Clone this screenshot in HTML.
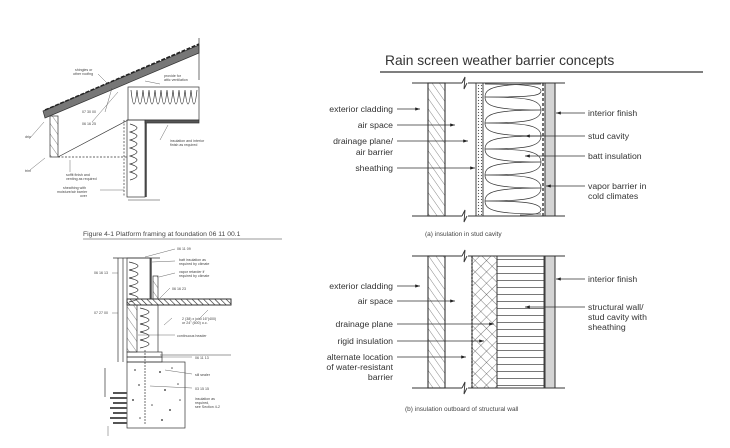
<!DOCTYPE html>
<html><head><meta charset="utf-8"><style>
html,body{margin:0;padding:0;background:#fff;}
svg{display:block;font-family:"Liberation Sans",sans-serif;}
.l{font-size:8.7px;fill:#333;}
.s{font-size:3.6px;fill:#444;}
</style></head><body>
<svg width="730" height="448" viewBox="0 0 730 448" xmlns="http://www.w3.org/2000/svg">
<defs>
<pattern id="hat" width="6" height="6" patternUnits="userSpaceOnUse" patternTransform="rotate(-35)">
<line x1="0" y1="0" x2="0" y2="6" stroke="#555" stroke-width="0.7"/></pattern>
<pattern id="xh" width="8" height="8" patternUnits="userSpaceOnUse" patternTransform="rotate(45)">
<line x1="0" y1="0" x2="0" y2="8" stroke="#444" stroke-width="0.7"/><line x1="0" y1="0" x2="8" y2="0" stroke="#444" stroke-width="0.7"/></pattern>
<pattern id="dots" width="3" height="3" patternUnits="userSpaceOnUse">
<circle cx="1.5" cy="1.5" r="0.6" fill="#555"/></pattern>
<pattern id="hz" width="10" height="7" patternUnits="userSpaceOnUse">
<line x1="0" y1="0.5" x2="10" y2="0.5" stroke="#555" stroke-width="0.8"/></pattern>
<pattern id="dh" width="4" height="4" patternUnits="userSpaceOnUse" patternTransform="rotate(-45)">
<line x1="0" y1="0" x2="0" y2="4" stroke="#222" stroke-width="1.2"/></pattern>
<marker id="ar" markerWidth="6" markerHeight="4" refX="6" refY="2" orient="auto"><path d="M0,0 L6,2 L0,4z" fill="#222"/></marker>
</defs>

<text x="385" y="65" style="font-size:13.8px;fill:#333">Rain screen weather barrier concepts</text>
<line x1="380" y1="72" x2="703" y2="72" stroke="#555" stroke-width="1.5"/>

<!-- Panel a -->
<g stroke="#333" fill="none" stroke-width="0.9">
<line x1="412" y1="83" x2="462" y2="83"/><line x1="468" y1="83" x2="565" y2="83"/>
<line x1="412" y1="216" x2="462" y2="216"/><line x1="468" y1="216" x2="565" y2="216"/>
<path d="M462,83 l3,-6 l-1,12 l3,-6" /><path d="M462,216 l3,-6 l-1,12 l3,-6"/>
<rect x="428" y="83" width="17" height="133" fill="url(#hat)" stroke-width="1.1"/>
<rect x="476" y="83" width="7" height="133" fill="url(#dots)"/>
<rect x="545" y="83" width="10" height="133" fill="#d4d4d4" stroke-width="1"/>
<line x1="543" y1="83" x2="543" y2="216" stroke-dasharray="3,2" stroke-width="1.4"/>
<g stroke-width="0.7">
<path d="M541,84 C495,84 485,88 485,97 C485,106 495,110 541,110 C495,110 485,114 485,123 C485,132 495,136 541,136 C495,136 485,140 485,149 C485,158 495,162 541,162 C495,162 485,166 485,175 C485,184 495,188 541,188 C495,188 485,192 485,201 C485,210 495,214 541,214"/>
<path d="M485,84 C525,84 541,86 541,91 C541,96 530,97 485,97 M485,97 C525,97 541,99 541,110 C541,121 525,123 485,123 M485,123 C525,123 541,125 541,136 C541,147 525,149 485,149 M485,149 C525,149 541,151 541,162 C541,173 525,175 485,175 M485,175 C525,175 541,177 541,188 C541,199 525,201 485,201 M485,201 C525,201 541,203 541,210 C541,214 530,215 520,215"/>
</g>
</g>
<g stroke="#333" stroke-width="0.8" marker-end="url(#ar)">
<line x1="397" y1="109" x2="420" y2="109"/>
<line x1="397" y1="125" x2="455" y2="125"/>
<line x1="397" y1="141" x2="468" y2="141"/>
<line x1="397" y1="168" x2="475" y2="168"/>
<line x1="585" y1="113" x2="556" y2="113"/>
<line x1="585" y1="136" x2="525" y2="136"/>
<line x1="585" y1="156" x2="525" y2="156"/>
<line x1="585" y1="186" x2="546" y2="186"/>
</g>
<g class="l" text-anchor="end">
<text x="393" y="112">exterior cladding</text>
<text x="393" y="128">air space</text>
<text x="393" y="144">drainage plane/</text>
<text x="393" y="155">air barrier</text>
<text x="393" y="171">sheathing</text>
</g>
<g class="l">
<text x="588" y="116">interior finish</text>
<text x="588" y="139">stud cavity</text>
<text x="588" y="159">batt insulation</text>
<text x="588" y="189">vapor barrier in</text>
<text x="588" y="199">cold climates</text>
</g>
<text x="425" y="236" style="font-size:6.5px;fill:#444">(a) insulation in stud cavity</text>

<!-- Panel b -->
<g stroke="#333" fill="none" stroke-width="0.9">
<line x1="412" y1="256" x2="462" y2="256"/><line x1="468" y1="256" x2="565" y2="256"/>
<line x1="412" y1="388" x2="462" y2="388"/><line x1="468" y1="388" x2="565" y2="388"/>
<path d="M462,256 l3,-6 l-1,12 l3,-6"/><path d="M462,388 l3,-6 l-1,12 l3,-6"/>
<rect x="428" y="256" width="17" height="132" fill="url(#hat)" stroke-width="1.1"/>
<rect x="472" y="256" width="25" height="132" fill="url(#xh)"/>
<line x1="472" y1="256" x2="472" y2="388" stroke-dasharray="2,1.5" stroke-width="1.3"/>
<rect x="497" y="256" width="47" height="132" fill="url(#hz)"/>
<rect x="545" y="256" width="10" height="132" fill="#d4d4d4" stroke-width="1"/>
</g>
<g stroke="#333" stroke-width="0.8" marker-end="url(#ar)">
<line x1="397" y1="286" x2="420" y2="286"/>
<line x1="397" y1="301" x2="455" y2="301"/>
<line x1="397" y1="324" x2="494" y2="324"/>
<line x1="397" y1="341" x2="484" y2="341"/>
<line x1="397" y1="357" x2="466" y2="357"/>
<line x1="585" y1="279" x2="556" y2="279"/>
<line x1="585" y1="307" x2="525" y2="307"/>
</g>
<g class="l" text-anchor="end">
<text x="393" y="289">exterior cladding</text>
<text x="393" y="304">air space</text>
<text x="393" y="327">drainage plane</text>
<text x="393" y="344">rigid insulation</text>
<text x="393" y="360">alternate location</text>
<text x="393" y="370">of water-resistant</text>
<text x="393" y="380">barrier</text>
</g>
<g class="l">
<text x="588" y="282">interior finish</text>
<text x="588" y="310">structural wall/</text>
<text x="588" y="320">stud cavity with</text>
<text x="588" y="330">sheathing</text>
</g>
<text x="405" y="411" style="font-size:6.5px;fill:#444">(b) insulation outboard of structural wall</text>

<!-- Left top: roof/eave -->
<g stroke="#333" fill="none" stroke-width="0.7">
<path d="M43,111 L199,45 L199,53 L45,118 Z" fill="#777" stroke="#333"/>
<path d="M45,110 L199,44" stroke="#222" stroke-width="1.5" stroke-dasharray="4,1.5"/>
<line x1="199" y1="38" x2="199" y2="80"/>
<rect x="50" y="116" width="8" height="41" fill="url(#hat)"/>
<rect x="128" y="87" width="71" height="33"/>
<path d="M131,90 q3,28 6,0 q3,28 6,0 q3,28 6,0 q3,28 6,0 q3,28 6,0 q3,28 6,0 q3,28 6,0 q3,28 6,0 q3,28 6,0 q3,28 6,0 q3,28 6,0"/>
<rect x="145" y="120" width="54" height="3" fill="#555"/>
<rect x="127" y="120" width="18" height="77"/>
<line x1="146" y1="123" x2="146" y2="197" stroke-width="1.4"/>
<path d="M130,124 q14,4 0,8 q14,4 0,8 q14,4 0,8 q14,4 0,8 q14,4 0,8 q14,4 0,8 q14,4 0,8"/>
<line x1="58" y1="157" x2="127" y2="157" stroke-dasharray="2,1.5"/>
<line x1="58" y1="157" x2="128" y2="120"/>
<line x1="124" y1="120" x2="124" y2="197" stroke-dasharray="2,1.5"/>
<line x1="128" y1="200" x2="160" y2="200" stroke-width="0.5"/>
</g>
<g stroke="#444" stroke-width="0.4">
<line x1="98" y1="74" x2="108" y2="84"/><line x1="105" y1="112" x2="112" y2="88"/>
<line x1="92" y1="122" x2="118" y2="92"/><line x1="160" y1="84" x2="145" y2="81"/>
<line x1="30" y1="138" x2="44" y2="122"/><line x1="30" y1="170" x2="45" y2="158"/>
<line x1="160" y1="140" x2="168" y2="125"/><line x1="70" y1="172" x2="70" y2="160"/>
<line x1="100" y1="190" x2="124" y2="190"/>
</g>
<g class="s">
<text x="75" y="71">shingles or</text><text x="73" y="75">other roofing</text>
<text x="164" y="77">provide for</text><text x="164" y="81">attic ventilation</text>
<text x="82" y="113">07 30 00</text><text x="82" y="125">06 16 25</text>
<text x="25" y="138">drip</text><text x="25" y="172">trim</text>
<text x="170" y="142">insulation and interior</text><text x="170" y="146">finish as required</text>
<text x="66" y="176">soffit finish and</text><text x="66" y="180">venting as required</text>
<text x="63" y="189">sheathing with</text><text x="57" y="193">moisture/air barrier</text><text x="80" y="197">over</text>
</g>
<text x="83" y="236" style="font-size:6.8px;fill:#444">Figure 4-1 Platform framing at foundation  06 11 00.1</text>
<line x1="83" y1="239" x2="282" y2="239" stroke="#777" stroke-width="0.8"/>

<!-- Left bottom: foundation -->
<g stroke="#333" fill="none" stroke-width="0.7">
<line x1="113" y1="258" x2="160" y2="258"/>
<line x1="118" y1="258" x2="118" y2="362"/><line x1="123" y1="258" x2="123" y2="362"/>
<rect x="127" y="258" width="23" height="41"/>
<line x1="151" y1="258" x2="151" y2="299" stroke-width="1.3"/>
<path d="M129,262 q18,4 0,8 q18,4 0,8 q18,4 0,8 q18,4 0,8 q18,4 0,8"/>
<rect x="153" y="276" width="5" height="23" fill="url(#hat)"/>
<rect x="127" y="299" width="104" height="6" fill="url(#dh)" stroke-width="1"/>
<rect x="127" y="305" width="10" height="47" fill="url(#hat)"/>
<path d="M140,308 q18,4 0,8 q18,4 0,8 q18,4 0,8 q18,4 0,8 q18,4 0,8"/>
<line x1="158" y1="305" x2="158" y2="352"/>
<line x1="160" y1="355" x2="231" y2="355" stroke-width="0.5"/>
<rect x="127" y="352" width="35" height="5"/><rect x="127" y="357" width="35" height="5"/>
<rect x="127" y="362" width="58" height="66"/>
<line x1="145" y1="350" x2="145" y2="425" stroke-dasharray="2,1"/>
<path d="M113,393 h14 M110,398 h17 M113,403 h14 M110,408 h17 M113,413 h14 M110,418 h17 M113,423 h14" stroke-width="2" stroke="#555"/>
<line x1="105" y1="368" x2="105" y2="397"/>
<line x1="108" y1="426" x2="108" y2="436" stroke-width="0.4"/>
</g>
<g fill="#555">
<circle cx="135" cy="370" r="0.9"/><circle cx="160" cy="372" r="1"/><circle cx="172" cy="368" r="0.8"/>
<circle cx="139" cy="385" r="0.9"/><circle cx="165" cy="390" r="1"/><circle cx="178" cy="384" r="0.8"/>
<circle cx="133" cy="400" r="1"/><circle cx="152" cy="405" r="0.8"/><circle cx="170" cy="410" r="1"/>
<circle cx="140" cy="418" r="0.8"/><circle cx="162" cy="420" r="1"/><circle cx="180" cy="400" r="0.8"/>
</g>
<g stroke="#444" stroke-width="0.4">
<line x1="175" y1="249" x2="145" y2="257"/><line x1="175" y1="261" x2="152" y2="262"/>
<line x1="175" y1="273" x2="159" y2="277"/><line x1="170" y1="288" x2="160" y2="298"/>
<line x1="112" y1="273" x2="118" y2="273"/><line x1="112" y1="313" x2="118" y2="313"/>
<line x1="175" y1="335" x2="138" y2="335"/><line x1="192" y1="357" x2="162" y2="357"/>
<line x1="192" y1="374" x2="165" y2="370"/><line x1="192" y1="388" x2="150" y2="386"/>
<line x1="208" y1="310" x2="200" y2="318"/><line x1="164" y1="325" x2="172" y2="318"/>
</g>
<g class="s">
<text x="177" y="250">06 11 09</text>
<text x="179" y="261">batt insulation as</text><text x="179" y="265">required by climate</text>
<text x="179" y="273">vapor retarder if</text><text x="179" y="277">required by climate</text>
<text x="94" y="274">06 16 13</text>
<text x="172" y="290">06 16 23</text>
<text x="94" y="314">07 27 00</text>
<text x="182" y="320">2 (38) x joist 16"(400)</text><text x="182" y="324">or 24" (600) o.c.</text>
<text x="177" y="337">continuous header</text>
<text x="195" y="359">06 11 13</text>
<text x="195" y="376">sill sealer</text>
<text x="195" y="390">03 15 15</text>
<text x="195" y="400">insulation as</text><text x="195" y="404">required,</text><text x="195" y="408">see Section 4-2</text>
</g>
</svg>
</body></html>
